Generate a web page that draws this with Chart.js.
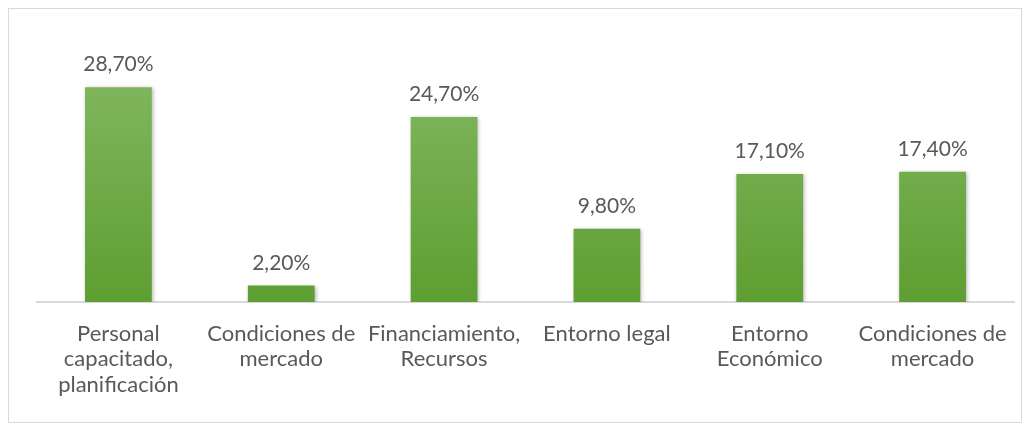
<!DOCTYPE html>
<html lang="es">
<head>
<meta charset="UTF-8">
<title>Factores</title>
<script src="https://cdn.jsdelivr.net/npm/chart.js"></script>
<style>
    body { margin: 0; background: #ffffff; }
    .frame {
        position: absolute;
        left: 8px;
        top: 8px;
        width: 1012px;
        height: 413px;
        border: 1px solid #d9d9d9;
    }
</style>
</head>
<body>
<div class="frame"><canvas id="chart"></canvas></div>
<script>
const categories = [
    ['Personal', 'capacitado,', 'planificación'],
    ['Condiciones de', 'mercado'],
    ['Financiamiento,', 'Recursos'],
    ['Entorno legal'],
    ['Entorno', 'Económico'],
    ['Condiciones de', 'mercado']
];
const values = [28.7, 2.2, 24.7, 9.8, 17.1, 17.4];

const textColor = '#595959';
const fontFamily = 'Lato, "Open Sans", sans-serif';

// green gradient bars, lighter at the top
function barFill(context) {
    const chart = context.chart;
    const area = chart.chartArea;
    if (!area) return '#70ad47';
    const g = chart.ctx.createLinearGradient(0, area.top, 0, area.bottom);
    g.addColorStop(0, '#86ba66');
    g.addColorStop(1, '#5e9e31');
    return g;
}

const valueLabels = {
    id: 'valueLabels',
    afterDatasetsDraw(chart) {
        const ctx = chart.ctx;
        const meta = chart.getDatasetMeta(0);
        ctx.save();
        ctx.fillStyle = textColor;
        ctx.font = '21px ' + fontFamily;
        ctx.textAlign = 'center';
        ctx.textBaseline = 'alphabetic';
        meta.data.forEach((bar, i) => {
            const txt = values[i].toFixed(2).replace('.', ',') + '%';
            ctx.fillText(txt, bar.x, bar.y - 16);
        });
        ctx.restore();
    }
};

const barShadow = {
    id: 'barShadow',
    beforeDatasetsDraw(chart) {
        const ctx = chart.ctx;
        ctx.save();
        ctx.shadowColor = 'rgba(0,0,0,0.3)';
        ctx.shadowBlur = 4;
        ctx.shadowOffsetX = 1;
        ctx.shadowOffsetY = 1;
    },
    afterDatasetsDraw(chart) {
        chart.ctx.restore();
    }
};

new Chart(document.getElementById('chart'), {
    type: 'bar',
    data: {
        labels: categories,
        datasets: [{
            data: values,
            backgroundColor: barFill,
            borderWidth: 0,
            barPercentage: 0.41,
            categoryPercentage: 1
        }]
    },
    options: {
        responsive: true,
        maintainAspectRatio: false,
        animation: false,
        layout: { padding: { left: 28, right: 7, top: 31, bottom: 0 } },
        plugins: {
            legend: { display: false },
            tooltip: { enabled: false }
        },
        scales: {
            x: {
                grid: { display: false },
                border: { color: '#d9d9d9', width: 2 },
                ticks: {
                    color: textColor,
                    font: { family: fontFamily, size: 22, lineHeight: 1.16 },
                    padding: 11,
                    maxRotation: 0,
                    autoSkip: false
                },
                afterFit(scale) { scale.height = 120; }
            },
            y: {
                display: false,
                min: 0,
                max: 35
            }
        }
    },
    plugins: [barShadow, valueLabels]
});
</script>
</body>
</html>
